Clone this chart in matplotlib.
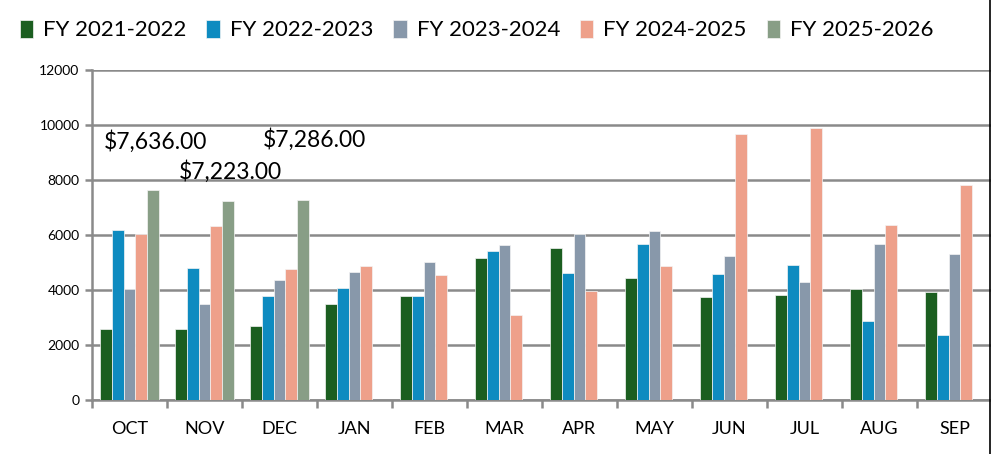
"""Monthly totals by fiscal year, grouped bar chart."""

import matplotlib
matplotlib.use("Agg")
import matplotlib.pyplot as plt
from matplotlib.lines import Line2D
import numpy as np

months = ["OCT", "NOV", "DEC", "JAN", "FEB", "MAR",
          "APR", "MAY", "JUN", "JUL", "AUG", "SEP"]
series_names = ["FY 2021-2022", "FY 2022-2023", "FY 2023-2024",
                "FY 2024-2025", "FY 2025-2026"]

fy2122 = [2590, 2600, 2690, 3500, 3780, 5170, 5530, 4430, 3750, 3820, 4030, 3930]
fy2223 = [6200, 4800, 3780, 4080, 3800, 5430, 4610, 5660, 4590, 4920, 2860, 2350]
fy2324 = [4030, 3500, 4350, 4640, 5010, 5640, 6030, 6140, 5220, 4290, 5660, 5320]
fy2425 = [6030, 6330, 4770, 4880, 4530, 3080, 3980, 4860, 9670, 9890, 6350, 7810]
fy2526 = [7636, 7223, 7286]

labels_text = ["$7,636.00", "$7,223.00", "$7,286.00"]

colors = ["#1b5e20", "#0e8bc0", "#8898aa", "#eea08a", "#889e86"]

plt.rcParams["font.family"] = ["Lato", "DejaVu Sans"]

fig = plt.figure(figsize=(9.91, 4.54), dpi=100)
ax = fig.add_axes([92 / 991, 54 / 454, 900 / 991, 330 / 454])

x = np.arange(len(months))
width = 0.156
all_series = [fy2122, fy2223, fy2324, fy2425, fy2526]
for i, (vals, col, name) in enumerate(zip(all_series, colors, series_names)):
    pos = x[:len(vals)] + (i - 2) * width
    ax.bar(pos, vals, width=width, color=col, edgecolor="#f4f4f4",
           linewidth=0.5, label=name, zorder=3)

# data labels for the current year (placed like the source chart)
label_pos = [(0.35, 9130), (1.34, 8040), (2.47, 9200)]
for txt, (lx, ly) in zip(labels_text, label_pos):
    ax.text(lx, ly, txt, ha="center", va="baseline", fontsize=16.5, zorder=4)

ax.set_xlim(-0.5, 11.5)
ax.set_ylim(0, 12000)
ax.set_yticks(range(0, 12001, 2000))
ax.tick_params(axis="y", labelsize=10, length=5, width=1.8, color="#8a8a8a", pad=4)
ax.set_xticks(x)
ax.set_xticklabels(months)
ax.set_xticks(np.arange(-0.5, 12, 1), minor=True)
ax.tick_params(axis="x", which="major", length=0, labelsize=13, pad=15)
ax.tick_params(axis="x", which="minor", length=6, width=1.8, color="#8a8a8a")
ax.grid(axis="y", color="#8a8a8a", linewidth=1.8, zorder=0)
ax.set_axisbelow(True)
for s in ["top", "right"]:
    ax.spines[s].set_visible(False)
for s in ["left", "bottom"]:
    ax.spines[s].set_color("#8a8a8a")
    ax.spines[s].set_linewidth(1.8)

fig.legend(loc="center left", bbox_to_anchor=(0.011, 1 - 30 / 454), ncol=5,
           frameon=False, fontsize=16, handlelength=0.6, handleheight=0.9,
           handletextpad=0.45, columnspacing=0.9, borderaxespad=0)

fig.add_artist(Line2D([989.5 / 991, 989.5 / 991], [0, 1], color="black",
                      linewidth=1.2, transform=fig.transFigure))

fig.savefig("out.png", dpi=100)
